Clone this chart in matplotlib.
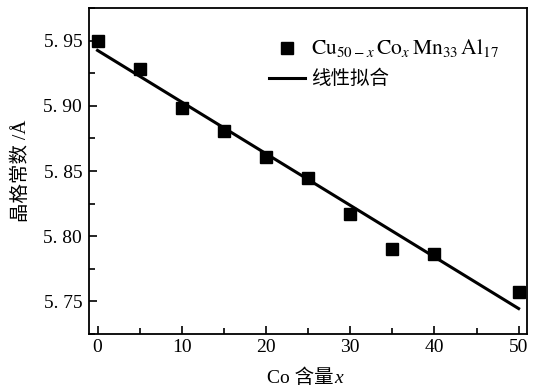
import numpy as np
import matplotlib
matplotlib.use("Agg")
import matplotlib.pyplot as plt
from matplotlib.ticker import FixedLocator, FixedFormatter, MultipleLocator

plt.rcParams['font.family'] = ['Liberation Serif', 'Noto Sans CJK SC', 'DejaVu Sans']
plt.rcParams['mathtext.fontset'] = 'stix'

# Co content x and measured lattice constant (Å)
co_x = [0, 5, 10, 15, 20, 25, 30, 35, 40, 50]
lattice = [5.950, 5.928, 5.898, 5.8805, 5.8607, 5.845, 5.817, 5.790, 5.786, 5.757]

# linear fit end points
fit_x = [0, 50]
fit_y = [5.9425, 5.7445]

xticks = [0, 10, 20, 30, 40, 50]
yticks = [5.75, 5.80, 5.85, 5.90, 5.95]
ylabels = ['5. 75', '5. 80', '5. 85', '5. 90', '5. 95']

fig = plt.figure(figsize=(5.4, 3.89), dpi=100)
ax = fig.add_axes([0.165, 0.1414, 0.811, 0.8380])

ax.plot(co_x, lattice, 's', color='black', markersize=8.5,
        label=r'$\mathrm{Cu}_{50-x}\,\mathrm{Co}_{x}\,\mathrm{Mn}_{33}\,\mathrm{Al}_{17}$')
ax.plot(fit_x, fit_y, '-', color='black', linewidth=2.2, label='线性拟合')

ax.set_xlim(-1, 51)
ax.set_ylim(5.725, 5.975)
ax.xaxis.set_major_locator(FixedLocator(xticks))
ax.xaxis.set_minor_locator(MultipleLocator(5))
ax.yaxis.set_major_locator(FixedLocator(yticks))
ax.yaxis.set_major_formatter(FixedFormatter(ylabels))
ax.yaxis.set_minor_locator(MultipleLocator(0.025))

ax.tick_params(which='both', direction='in', top=False, right=False, labelsize=14, width=1.2)
ax.tick_params(axis='y', pad=5)
ax.tick_params(which='major', length=6)
ax.tick_params(which='minor', length=4)
for s in ax.spines.values():
    s.set_linewidth(1.3)

# x label: "Co 含量" plus italic x
fig.text(267 / 540, 1 - 383 / 389, 'Co 含量', fontsize=14, ha='left', va='baseline')
fig.text(334 / 540, 1 - 383 / 389, 'x', fontsize=14, style='italic', ha='left', va='baseline')

ax.set_ylabel('晶格常数 /Å', fontsize=14, labelpad=10)

leg = ax.legend(loc='upper left', bbox_to_anchor=(0.411, 0.91), frameon=False,
                fontsize=14, handlelength=1.85, handletextpad=0.3, labelspacing=0.55,
                borderpad=0, borderaxespad=0)
leg.get_texts()[0].set_fontsize(15.5)

fig.savefig('out.png', dpi=100)
